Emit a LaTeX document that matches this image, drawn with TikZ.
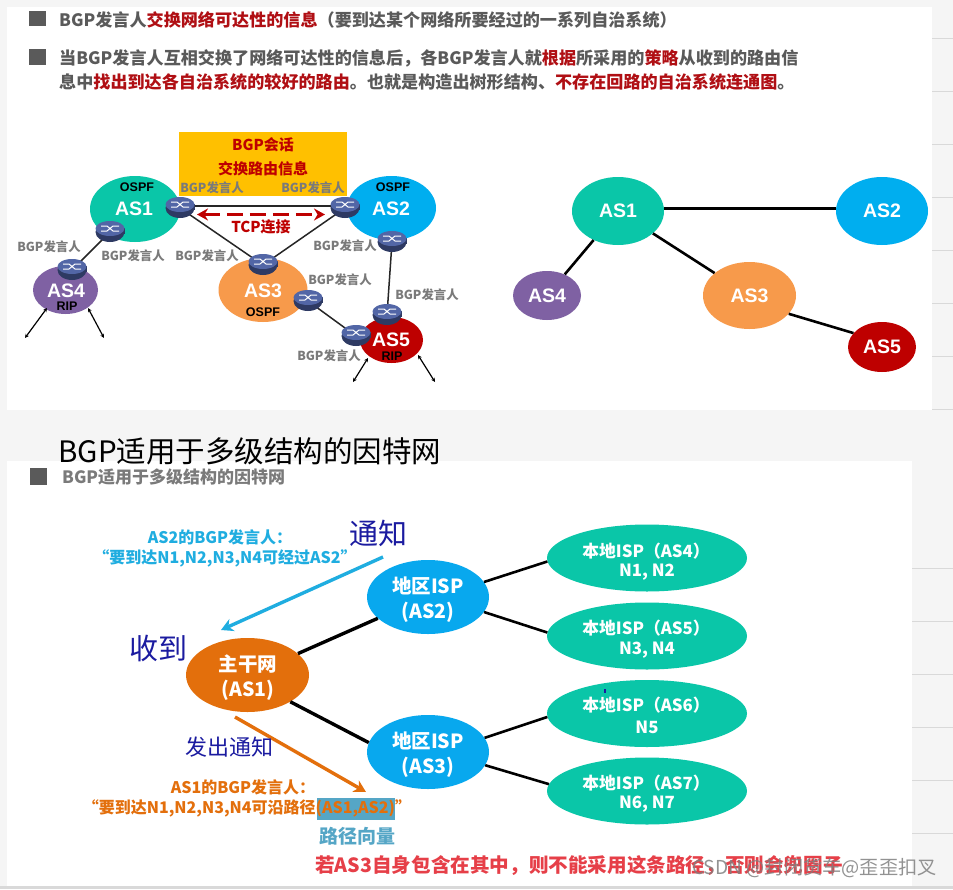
\documentclass[tikz,border=0pt]{standalone}
\usepackage{fontspec}
\usetikzlibrary{shapes.geometric,arrows.meta}
\setmainfont{Noto Sans CJK SC}
\newfontfamily\arialf{Liberation Sans}[BoldFont={Liberation Sans Bold}]
\definecolor{pagebg}{HTML}{F5F5F5}
\definecolor{gridc}{HTML}{D9D9D9}
\definecolor{tealc}{HTML}{0AC6A8}
\definecolor{blueA}{HTML}{00AEEF}
\definecolor{blueB}{HTML}{08A8EE}
\definecolor{orangeA}{HTML}{F79A4B}
\definecolor{purpleA}{HTML}{7F61A3}
\definecolor{redA}{HTML}{BE0000}
\definecolor{orangeB}{HTML}{E36F0C}
\definecolor{cyanT}{HTML}{1FADE0}
\definecolor{darkred}{HTML}{B00F14}
\definecolor{greyT}{HTML}{5A5A5A}
\definecolor{greyL}{HTML}{7A7A7A}
\definecolor{hl}{HTML}{55A6C6}
\definecolor{redT}{HTML}{E63F48}
\definecolor{inkb}{HTML}{1B1BA0}
\definecolor{rdark}{HTML}{2E3A63}
\definecolor{rlight}{HTML}{5266A6}
\definecolor{boxy}{HTML}{FFC000}
\tikzset{
  x=1pt,y=-1pt,
  bubble/.style={ellipse,inner sep=0pt,text=white,align=center},
  asname/.style={font=\arialf\bfseries\fontsize{19.5}{19.5}\selectfont,text=white},
  edge1/.style={line width=1.5pt,black!85},
  edge2/.style={line width=2.6pt,black},
  edge3/.style={line width=3.4pt,black},
  speaker/.style={font=\bfseries\fontsize{12.4}{13}\selectfont,text=greyL,inner sep=0pt},
  proto/.style={font=\arialf\bfseries\fontsize{12.5}{13}\selectfont,text=black,inner sep=0pt},
  plain/.style={inner sep=0pt,anchor=west},
  headline/.style={inner sep=0pt,anchor=west,font=\bfseries\fontsize{17.1}{18}\selectfont,text=greyT},
  isp/.style={bubble,font=\bfseries\fontsize{19.5}{25}\selectfont},
  localisp/.style={bubble,fill=tealc,minimum width=200pt,minimum height=67pt},
  ltext/.style={font=\bfseries\fontsize{16.8}{17}\selectfont,text=white,inner sep=0pt},
  msg/.style={inner sep=0pt,font=\bfseries\fontsize{16}{17}\selectfont},
  hand/.style={inner sep=0pt,text=inkb},
  routerbase/.style={ellipse,fill=rdark,minimum width=29pt,minimum height=20pt,inner sep=0pt},
  freearrow/.style={line width=1.2pt,black,{Stealth[length=4pt,width=4pt]}-{Stealth[length=4pt,width=4pt]}},
}
\newcommand{\routerat}[3]{%
  \node[routerbase] (#1) at (#2,#3) {};
  \fill[rdark] (#2-14.5,#3-4) rectangle (#2+14.5,#3+2);
  \fill[rlight] (#2,#3-3.5) ellipse [x radius=14.5, y radius=7.5];
  \draw[white,line width=1pt] (#2-9,#3-6)--(#2-3,#3-6)--(#2+3,#3-1)--(#2+9,#3-1)
     (#2-9,#3-1)--(#2-3,#3-1)--(#2+3,#3-6)--(#2+9,#3-6);
}
\begin{document}
\begin{tikzpicture}
\useasboundingbox (0,0) rectangle (953,889);
% page
\fill[pagebg] (0,0) rectangle (953,889);
\fill[white] (7,7) rectangle (932,410);
\fill[white] (7,461) rectangle (912,886);
\foreach \yy in {38,91,144,197,250,303,356,409}
  \draw[gridc,line width=.8pt] (932,\yy) -- (953,\yy);
\foreach \yy in {568,621,674,727,780,833}
  \draw[gridc,line width=.8pt] (912,\yy) -- (953,\yy);
\fill[gridc] (0,886) rectangle (953,889);
% headings
\fill[greyT] (29,11) rectangle (46,26);
\fill[greyT] (29,49) rectangle (46,65);
\node[headline] (h1) at (59,20) {BGP发言人\textcolor{darkred}{交换网络可达性的信息}（要到达某个网络所要经过的一系列自治系统）};
\node[headline] (h2) at (59,58) {当BGP发言人互相交换了网络可达性的信息后，各BGP发言人就\textcolor{darkred}{根据}所采用的\textcolor{darkred}{策略}从收到的路由信};
\node[headline] (h3) at (59,82) {息中\textcolor{darkred}{找出到达各自治系统的较好的路由}。也就是构造出树形结构、\textcolor{darkred}{不存在回路的自治系统连通图}。};
% left network
\fill[boxy] (179,132) rectangle (347,196);
\node[inner sep=0pt,font=\bfseries\fontsize{15}{15}\selectfont,text=redA] (bs1) at (263,145) {BGP会话};
\node[inner sep=0pt,font=\bfseries\fontsize{15}{15}\selectfont,text=redA] (bs2) at (263,169) {交换路由信息};
\node[bubble,fill=tealc,minimum width=90pt,minimum height=66pt] (a1) at (135,209) {};
\node[bubble,fill=blueA,minimum width=89pt,minimum height=64pt] (a2) at (391.5,208) {};
\node[bubble,fill=orangeA,minimum width=89pt,minimum height=64pt] (a3) at (263,290) {};
\node[bubble,fill=purpleA,minimum width=65pt,minimum height=48pt] (a4) at (65.5,290) {};
\node[bubble,fill=redA,minimum width=63pt,minimum height=46pt] (a5) at (391.5,340) {};
\node[asname] at (134,209) {AS1};
\node[asname] at (391,209) {AS2};
\node[asname] at (263,291) {AS3};
\node[asname] at (66,291) {AS4};
\node[asname] at (391,340) {AS5};
\node[proto] at (137,187) {OSPF};
\node[proto] at (393,187) {OSPF};
\node[proto] at (263,312) {OSPF};
\node[proto] at (67,306) {RIP};
\node[proto] at (392,356) {RIP};
\coordinate (r1c) at (180,206);\coordinate (r2c) at (345,206);
\coordinate (r1bc) at (110,232);\coordinate (r4c) at (72,270);
\coordinate (r3c) at (263,265);\coordinate (r3bc) at (308,301);
\coordinate (r2bc) at (392,242);\coordinate (r5tc) at (387,315);
\coordinate (r5lc) at (356,336);
\draw[line width=2pt,black!85] (r1c) -- (r2c);
\draw[edge1] (180,208) -- (r3c);
\draw[edge1] (345,208) -- (r3c);
\draw[edge1] (r1bc) -- (r4c);
\draw[edge1] (r2bc) -- (r5tc);
\draw[edge1] (r3bc) -- (r5lc);
\routerat{r1}{180}{208}
\routerat{r2}{345}{208}
\routerat{r1b}{110}{232}
\routerat{r4}{72}{270}
\routerat{r3}{263}{265}
\routerat{r3b}{308}{301}
\routerat{r2b}{392}{242}
\routerat{r5t}{387}{315}
\routerat{r5l}{356}{336}
\coordinate (tl) at (197,214.5);\coordinate (tr) at (325,214.5);
\draw[redA,line width=3.4pt,dash pattern=on 16pt off 7pt,{Stealth[length=11pt,width=12pt]}-{Stealth[length=11pt,width=12pt]}] (tl) -- (tr);
\node[inner sep=0pt,font=\bfseries\fontsize{15}{15}\selectfont,text=redA] (tcp) at (261,227) {TCP连接};
\foreach \px/\py in {212/188,313/188,49/247,133/256,207/256,345/246,340/280,427/295,329/356}
  \node[speaker] at (\px,\py) {BGP发言人};
\coordinate (f1) at (25,338);\coordinate (f2) at (47,308);
\coordinate (f3) at (88,308);\coordinate (f4) at (104,338);
\coordinate (f5) at (353,382);\coordinate (f6) at (368,358);
\coordinate (f7) at (418,355);\coordinate (f8) at (435,382);
\draw[freearrow] (f1) -- (f2);
\draw[freearrow] (f3) -- (f4);
\draw[freearrow] (f5) -- (f6);
\draw[freearrow] (f7) -- (f8);
% right tree
\node[bubble,fill=tealc,minimum width=92pt,minimum height=68pt] (t1) at (618,211) {};
\node[bubble,fill=blueA,minimum width=92pt,minimum height=68pt] (t2) at (882,211) {};
\node[bubble,fill=orangeA,minimum width=93pt,minimum height=67pt] (t3) at (749.5,295.5) {};
\node[bubble,fill=purpleA,minimum width=68pt,minimum height=49pt] (t4) at (547,295.5) {};
\node[bubble,fill=redA,minimum width=68pt,minimum height=50pt] (t5) at (882,347) {};
\draw[line width=3pt,black] (t1.3) -- (t2.177);
\draw[edge2] (t1) -- (t3);
\draw[edge2] (t1) -- (t4);
\draw[edge2] (t3.-25) -- (t5.154);
\node[asname] at (t1) {AS1};
\node[asname] at (t2) {AS2};
\node[asname] at (t3) {AS3};
\node[asname] at (t4) {AS4};
\node[asname] at (t5) {AS5};
% handwriting title
\node[inner sep=0pt,font=\fontsize{29.5}{30}\selectfont,text=black] (ht) at (250,451) {BGP适用于多级结构的因特网};
% lower heading
\fill[greyT] (30,468) rectangle (47,485);
\node[plain,font=\bfseries\fontsize{17}{18}\selectfont,text=greyL] (h4) at (62,477) {BGP适用于多级结构的因特网};
% hierarchy
\node[isp,fill=orangeB,minimum width=123pt,minimum height=74pt] (m1) at (247.5,675) {};
\node[isp,fill=blueB,minimum width=122pt,minimum height=74pt] (m2) at (428,597) {};
\node[isp,fill=blueB,minimum width=122pt,minimum height=74pt] (m3) at (428,752) {};
\node[localisp] (l4) at (647,558) {};
\node[localisp] (l5) at (647,636) {};
\node[localisp] (l6) at (647,713.5) {};
\node[localisp] (l7) at (647,791) {};
\draw[edge3] (m1.23) -- (m2.203);
\draw[edge3] (m1.-32) -- (m3.171);
\draw[edge2] (m2.15) -- (l4.182);
\draw[edge2] (m2.-15) -- (l5.178);
\draw[edge2] (m3.14) -- (l6.182);
\draw[edge2] (m3.-13) -- (l7.176);
\node[isp,inner sep=0pt,minimum size=0pt] at (248,678) {主干网\\(AS1)};
\node[isp,inner sep=0pt,minimum size=0pt] at (428,600) {地区ISP\\(AS2)};
\node[isp,inner sep=0pt,minimum size=0pt] at (428,755) {地区ISP\\(AS3)};
\node[ltext] at (646,551) {本地ISP（AS4）};
\node[ltext] at (647,572) {N1, N2};
\node[ltext] at (646,628) {本地ISP（AS5）};
\node[ltext] at (647,650) {N3, N4};
\node[ltext] at (646,705) {本地ISP（AS6）};
\node[ltext] at (647,727) {N5};
\node[ltext] at (646,783) {本地ISP（AS7）};
\node[ltext] at (647,804) {N6, N7};
\fill[inkb] (604.4,689) rectangle (605.8,693);
% messages
\node[msg,text=cyanT] (m2a) at (220,537) {AS2的BGP发言人：};
\node[msg,text=cyanT] (m2b) at (225,558) {“要到达N1,N2,N3,N4可经过AS2”};
\coordinate (ba) at (383,557);\coordinate (bb) at (221,630);
\draw[cyanT,line width=3.4pt,-{Stealth[length=12pt,width=13pt]}] (ba) -- (bb);
\coordinate (oa) at (235,717);\coordinate (ob) at (366,792);
\draw[orangeB,line width=3.4pt,-{Stealth[length=12pt,width=13pt]}] (oa) -- (ob);
\fill[hl] (317,798) rectangle (394.5,820);
\node[msg,text=orangeB] (m1a) at (243,787) {AS1的BGP发言人：};
\node[msg,text=orangeB] (m1b) at (247,808) {“要到达N1,N2,N3,N4可沿路径(AS1,AS2)”};
\node[inner sep=0pt,font=\bfseries\fontsize{19}{19}\selectfont,text=hl] (pv) at (357,836) {路径向量};
\node[plain,font=\bfseries\fontsize{19.6}{20}\selectfont,text=redT] (wn) at (315,866) {若AS3自身包含在其中，则不能采用这条路径，否则会兜圈子};
% handwritten notes
\node[hand,font=\fontsize{29}{29}\selectfont] (n1) at (378,533) {通知};
\node[hand,font=\fontsize{29}{29}\selectfont] (n2) at (158,648) {收到};
\node[hand,font=\fontsize{22}{22}\selectfont] (n3) at (229,747) {发出通知};
% watermark
\node[plain,font=\fontsize{19.2}{20}\selectfont,text=gray,opacity=.85] (wm) at (692,868) {CSDN @封闭货车@歪歪扣叉};
\end{tikzpicture}
\end{document}
